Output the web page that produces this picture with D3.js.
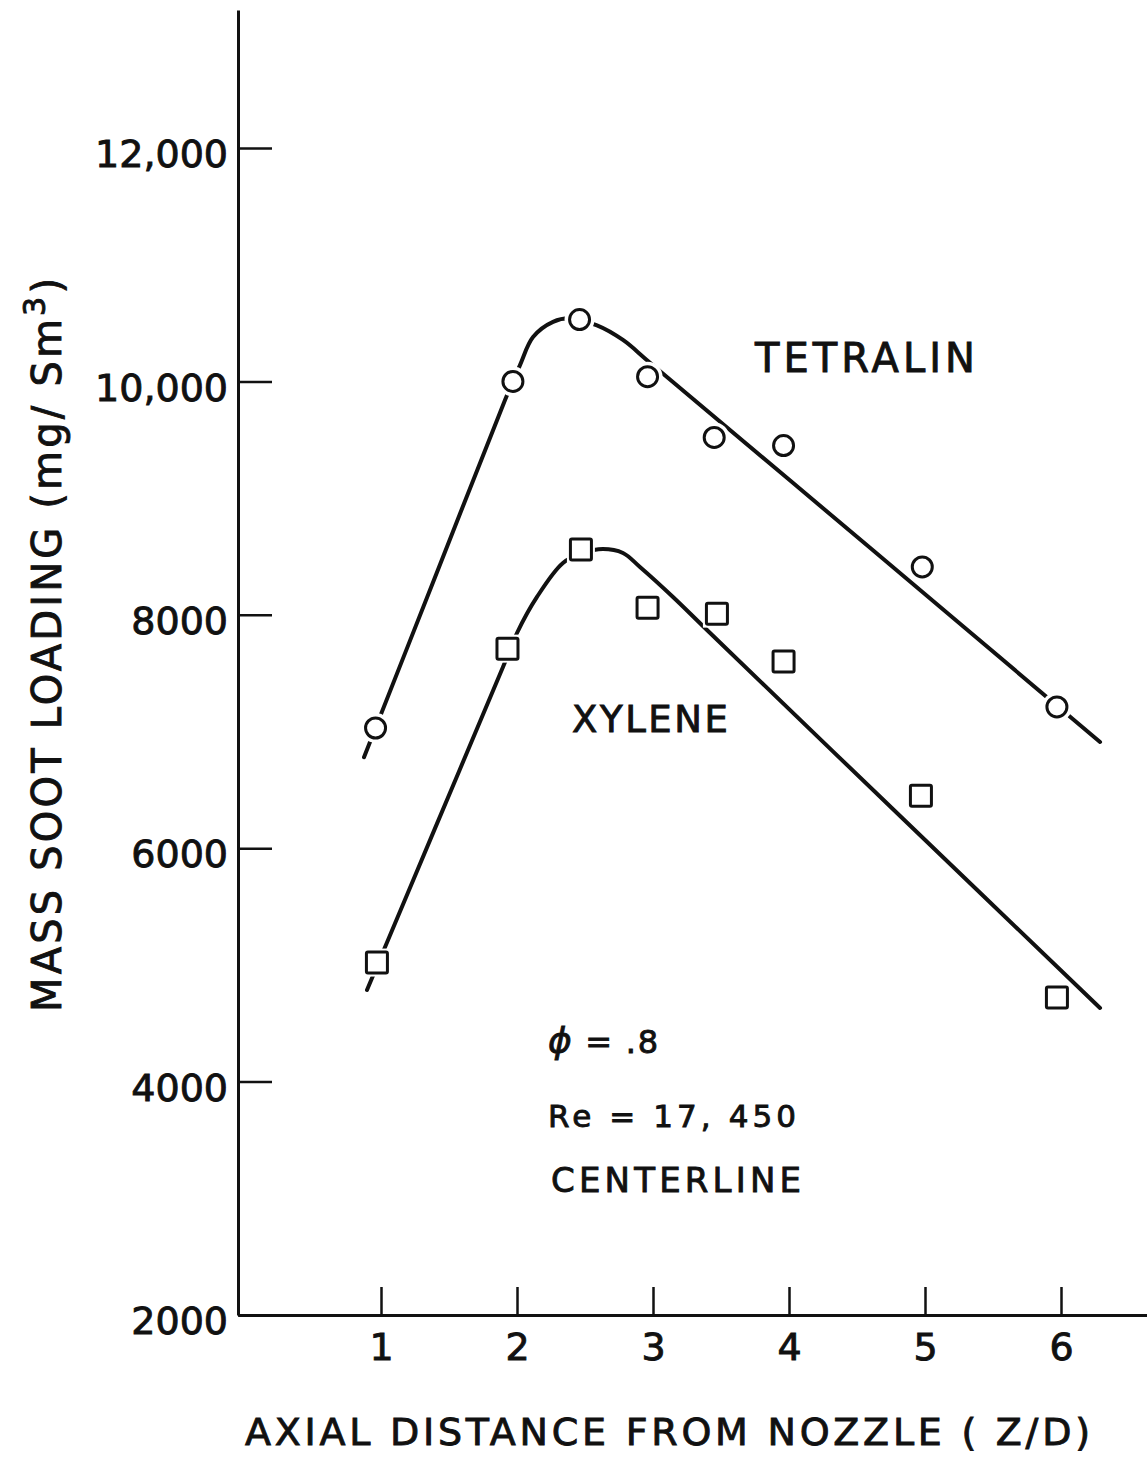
<!DOCTYPE html>
<html>
<head>
<meta charset="utf-8">
<script src="https://cdn.jsdelivr.net/npm/d3@7"></script>
<style>
  body { margin: 0; background: #ffffff; }
  svg text { font-family: "DejaVu Sans", sans-serif; fill: #111; stroke: #111; stroke-width: 0.9px; }
</style>
</head>
<body>
<svg id="chart" width="1147" height="1457"></svg>
<script>
// Axis ticks
const xTicks = [1, 2, 3, 4, 5, 6];
const yTicks = [2000, 4000, 6000, 8000, 10000, 12000];
const yTickLabels = ["2000", "4000", "6000", "8000", "10,000", "12,000"];

// Measured centerline soot loading (mg/Sm^3) vs axial distance Z/D
const tetralinZ    = [0.96, 1.97, 2.46, 2.96, 3.45, 3.96, 4.98, 5.97];
const tetralinSoot = [7030, 10000, 10530, 10040, 9520, 9450, 8410, 7210];
const xyleneZ      = [0.97, 1.93, 2.47, 2.96, 3.47, 3.96, 4.97, 5.97];
const xyleneSoot   = [5020, 7710, 8560, 8060, 8010, 7600, 6450, 4720];

// Hand-faired curves through each data set
const tetralinFitZ    = [0.875, 1.39, 1.912, 2.022, 2.118, 2.265, 2.39, 2.588, 2.779, 2.978, 4.6, 6.287];
const tetralinFitSoot = [6780, 8300, 9840, 10140, 10380, 10510, 10540, 10480, 10355, 10160, 8570, 6910];
const xyleneFitZ      = [0.897, 1.397, 1.897, 2.0, 2.147, 2.338, 2.485, 2.632, 2.779, 2.904, 3.147, 3.397, 4.84, 6.287];
const xyleneFitSoot   = [4785, 6170, 7553, 7844, 8153, 8444, 8530, 8564, 8530, 8410, 8153, 7870, 6250, 4631];

const svg = d3.select("#chart");
const ink = "#111";

const x = d3.scaleLinear().domain([1, 6]).range([381, 1061]);
const y = d3.scaleLinear().domain([2000, 12000]).range([1315, 148]);

// Axis frames: vertical axis runs to the top, horizontal axis to the right edge
const xFull = x.copy().domain([x.invert(238), x.invert(1147)]).range([238, 1147]);
const yFull = y.copy().domain([y.invert(1315), y.invert(10)]).range([1315, 10]);

const xAxis = svg.append("g")
  .attr("transform", `translate(0,${y(2000)})`)
  .call(d3.axisBottom(xFull).tickValues(xTicks).tickSizeInner(-28).tickSizeOuter(0)
        .tickFormat(d3.format("d")));
xAxis.selectAll("path.domain").attr("stroke", ink).attr("stroke-width", 3);
xAxis.selectAll(".tick line").attr("stroke", ink).attr("stroke-width", 2.5);
xAxis.selectAll(".tick text")
  .attr("y", 45).attr("dy", null)
  .style("font-size", "38px").attr("fill", ink);

const yAxis = svg.append("g")
  .attr("transform", `translate(${xFull.range()[0]},0)`)
  .call(d3.axisLeft(yFull).tickValues(yTicks).tickSizeInner(-34).tickSizeOuter(0).tickPadding(10)
        .tickFormat((d, i) => yTickLabels[i]));
yAxis.selectAll("path.domain").attr("stroke", ink).attr("stroke-width", 3);
yAxis.selectAll(".tick line").attr("stroke", ink).attr("stroke-width", 2.5);
yAxis.selectAll(".tick text")
  .attr("dy", "0.49em")
  .style("font-size", "38px").attr("fill", ink);

// Faired curves
const line = d3.line()
  .x(d => x(d[0])).y(d => y(d[1]))
  .curve(d3.curveCatmullRom.alpha(0.5));

const fits = [
  d3.zip(tetralinFitZ, tetralinFitSoot),
  d3.zip(xyleneFitZ, xyleneFitSoot)
];
svg.append("g").selectAll("path").data(fits).join("path")
  .attr("d", line)
  .attr("fill", "none")
  .attr("stroke", ink)
  .attr("stroke-width", 4)
  .attr("stroke-linecap", "round");

// Data markers (white-filled, with a small clearing around each)
const tetralinPts = d3.zip(tetralinZ, tetralinSoot);
const xylenePts = d3.zip(xyleneZ, xyleneSoot);

const marks = svg.append("g");
marks.selectAll("circle.halo").data(tetralinPts).join("circle")
  .attr("class", "halo")
  .attr("cx", d => x(d[0])).attr("cy", d => y(d[1]))
  .attr("r", 15).attr("fill", "#fff");
marks.selectAll("circle.pt").data(tetralinPts).join("circle")
  .attr("class", "pt")
  .attr("cx", d => x(d[0])).attr("cy", d => y(d[1]))
  .attr("r", 10).attr("fill", "#fff")
  .attr("stroke", ink).attr("stroke-width", 3);

marks.selectAll("rect.halo").data(xylenePts).join("rect")
  .attr("class", "halo")
  .attr("x", d => x(d[0]) - 14).attr("y", d => y(d[1]) - 14)
  .attr("width", 28).attr("height", 28).attr("fill", "#fff");
marks.selectAll("rect.pt").data(xylenePts).join("rect")
  .attr("class", "pt")
  .attr("x", d => x(d[0]) - 10.5).attr("y", d => y(d[1]) - 10.5)
  .attr("width", 21).attr("height", 21).attr("rx", 1.5)
  .attr("fill", "#fff")
  .attr("stroke", ink).attr("stroke-width", 3);

// Series labels and run conditions
function label(txt, x0, base, size, len) {
  return svg.append("text")
    .attr("x", x0).attr("y", base)
    .attr("textLength", len).attr("lengthAdjust", "spacing")
    .style("font-size", size + "px")
    .text(txt);
}
label("TETRALIN", 755, 372, 40, 220);
label("XYLENE", 572, 732, 37, 156);

const phi = svg.append("text")
  .attr("x", 548).attr("y", 1053)
  .attr("textLength", 110).attr("lengthAdjust", "spacing")
  .style("font-size", "32px");
phi.append("tspan").style("font-style", "italic").style("font-size", "36px").text("ϕ");
phi.append("tspan").text(" = .8");

label("Re = 17, 450", 548, 1127, 31, 248);
label("CENTERLINE", 551, 1192, 34, 250);

// Axis titles
label("AXIAL DISTANCE FROM NOZZLE ( Z/D)", 245, 1445, 38, 845);

const yTitle = svg.append("text")
  .attr("transform", "translate(61,1012) rotate(-90)")
  .attr("textLength", 734).attr("lengthAdjust", "spacing")
  .style("font-size", "40px");
yTitle.append("tspan").text("MASS SOOT LOADING (mg/ Sm");
yTitle.append("tspan").attr("dy", -16).style("font-size", "30px").text("3");
yTitle.append("tspan").attr("dy", 16).text(")");
</script>
</body>
</html>
